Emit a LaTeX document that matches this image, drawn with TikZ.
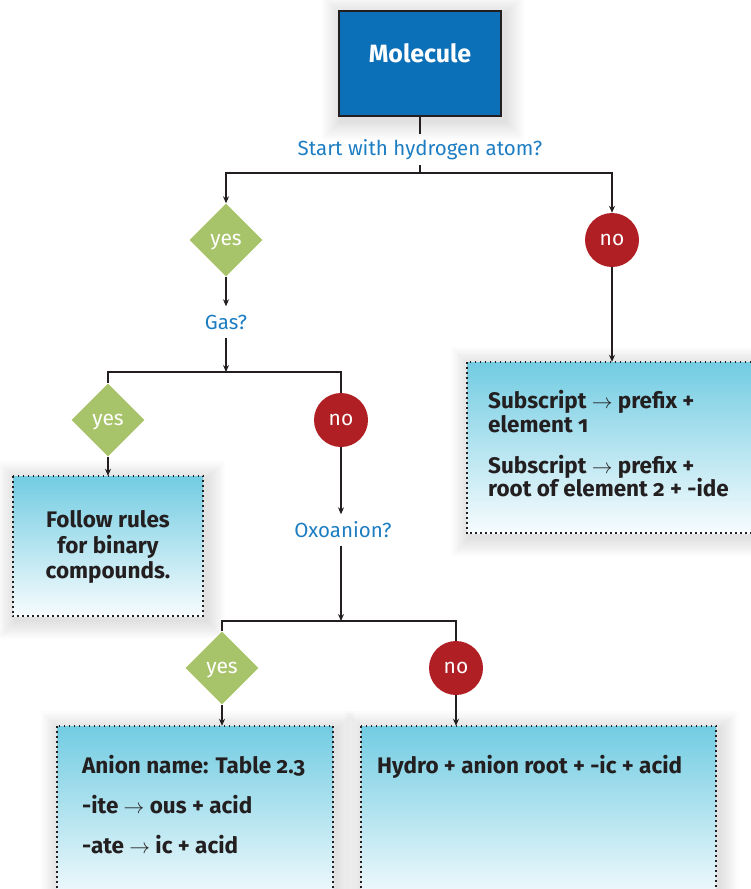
\documentclass[tikz,border=0pt]{standalone}
\usepackage{fontspec}
\setmainfont{Fira Sans}[Numbers=OldStyle]
\usetikzlibrary{arrows.meta,shapes.geometric,backgrounds}
\definecolor{molblue}{HTML}{0C70B8}
\definecolor{qblue}{HTML}{1C7DC2}
\definecolor{yesgreen}{HTML}{A8C46A}
\definecolor{nored}{HTML}{B01F24}
\definecolor{cyanT}{HTML}{72CCE2}
\definecolor{cyanB}{HTML}{F7FCFE}
\definecolor{linec}{HTML}{231F20}
\begin{document}
\begin{tikzpicture}[x=1pt,y=-1pt,
  conn/.style={draw=linec, line width=1.3pt},
  arr/.style={conn, -{Stealth[length=7pt,width=6pt]}},
  yesd/.style={diamond, aspect=1, fill=yesgreen, minimum size=73pt, inner sep=0pt, text=white, text depth=0pt, font=\fontsize{21}{22}\selectfont},
  noc/.style={circle, fill=nored, minimum size=54pt, inner sep=0pt, text=white, font=\fontsize{21}{22}\selectfont},
  qlab/.style={text=qblue, font=\fontsize{20.5}{22}\selectfont, inner sep=0pt, minimum height=31pt},
  infobox/.style={rectangle, inner sep=0pt, top color=cyanT, bottom color=cyanB},
  dotline/.style={draw=linec, line width=2.2pt, dash pattern=on 1.8pt off 3.2pt},
  btxt/.style={anchor=base west, inner sep=0pt, text=linec, font=\bfseries\fontsize{22.5}{24}\selectfont},
  ctxt/.style={btxt, anchor=base},
]
\useasboundingbox (0,0) rectangle (751,889);
\clip (0,0) rectangle (751,889);

% main box
\node[rectangle, fill=molblue, draw=linec, line width=1.5pt, minimum width=162pt, minimum height=105pt] (mol) at (420,63.5) {};
\node[anchor=base, inner sep=0pt, text=white, font=\bfseries\fontsize{25}{27}\selectfont] (molT) at (420,62) {Molecule};

% questions
\node[qlab] (q1) at (420,149.5) {Start with hydrogen atom?};
\node[qlab] (q2) at (226,322) {Gas?};
\node[qlab] (q3) at (343,530) {Oxoanion?};

% decisions
\node[yesd] (yes1) at (226,240) {yes};
\node[noc] (no1) at (612,240) {no};
\node[yesd] (yes2) at (108,420) {yes};
\node[noc] (no2) at (341,420) {no};
\node[yesd] (yes3) at (222,668) {yes};
\node[noc] (no3) at (456,668) {no};

% info boxes
\node[infobox, minimum width=190pt, minimum height=140pt] (b1) at (108,546) {};
\node[infobox, minimum width=293pt, minimum height=171pt] (b2) at (613.5,447.5) {};
\node[infobox, minimum width=276pt, minimum height=180pt] (b3) at (195,816) {};
\node[infobox, minimum width=355pt, minimum height=180pt] (b4) at (538.5,816) {};
\foreach \n in {b1,b2,b3,b4}{
  \draw[dotline] (\n.north west) rectangle (\n.south east);
}

% shadows
\begin{scope}[on background layer]
\foreach \n in {mol,b1,b2,b3,b4}{
  \foreach \k in {1,...,10}{
    \fill[black,opacity=0.012] ([shift={(-\k*1.9+3,-\k*1.9+4)}]\n.north west) rectangle ([shift={(\k*1.9+3,\k*1.9+4)}]\n.south east);
  }
}
\end{scope}

% box texts
\node[ctxt] (t1a) at (108,527) {Follow rules};
\node[ctxt] (t1b) at (108,553) {for binary};
\node[ctxt] (t1c) at (108,578) {compounds.};

\node[btxt] (t2a) at (488,408) {Subscript $\rightarrow$ prefix +};
\node[btxt] (t2b) at (488,432) {element 1};
\node[btxt] (t2c) at (488,473) {Subscript $\rightarrow$ prefix +};
\node[btxt] (t2d) at (488,496) {root of element 2 + -ide};

\node[btxt] (t3a) at (82,773) {Anion name: Table 2.3};
\node[btxt] (t3b) at (82,813) {-ite $\rightarrow$ ous + acid};
\node[btxt] (t3c) at (82,853) {-ate $\rightarrow$ ic + acid};

\node[btxt] (t4a) at (377,773) {Hydro + anion root + -ic + acid};

% connectors
\coordinate (j1) at (420,173);
\coordinate (j2) at (226,372);
\coordinate (j3) at (341,621);
\draw[conn] (mol) -- (q1);
\draw[conn] (q1) -- (j1);
\draw[arr] (j1) -| (yes1);
\draw[arr] (j1) -| (no1);
\draw[arr] (no1) -- (no1 |- b2.north);
\draw[arr] (yes1) -- (q2);
\draw[arr] (q2) -- (j2);
\draw[conn] (j2) -| (yes2);
\draw[conn] (j2) -| (no2);
\draw[arr] (yes2) -- (b1);
\draw[arr] (no2) -- (no2 |- q3.north);
\draw[arr] (no2 |- q3.south) -- (j3);
\draw[conn] (j3) -| (yes3);
\draw[conn] (j3) -| (no3);
\draw[arr] (yes3) -- (yes3 |- b3.north);
\draw[arr] (no3) -- (no3 |- b4.north);
\end{tikzpicture}
\end{document}
